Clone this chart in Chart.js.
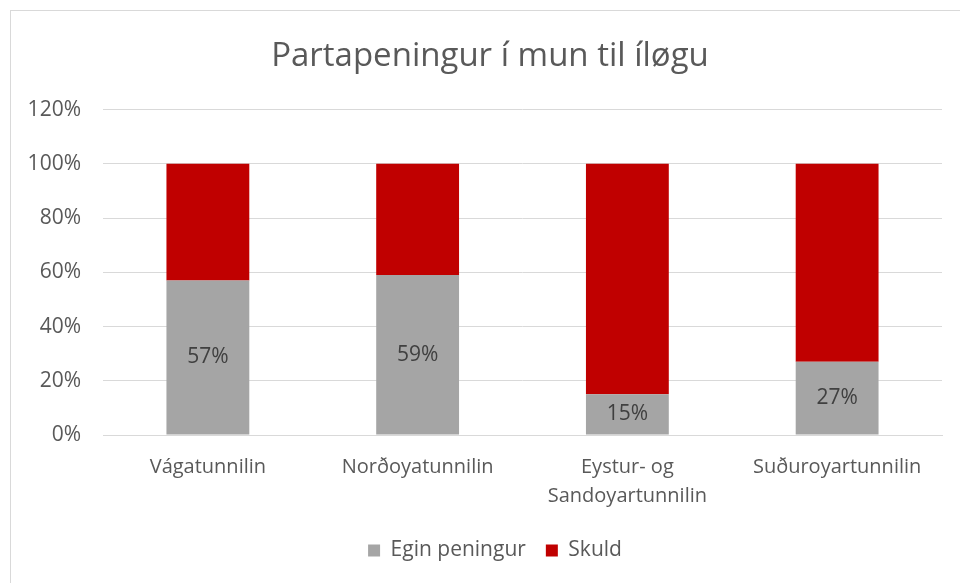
<!DOCTYPE html>
<html>
<head>
<meta charset="utf-8">
<script src="https://cdn.jsdelivr.net/npm/chart.js@4"></script>
<style>
    body { margin: 0; background: #fff; overflow: hidden; }
    #wrap { position: relative; width: 960px; height: 583px; }
    #frame { position: absolute; left: 10px; top: 10px; width: 960px; height: 600px; border: 1px solid #d9d9d9; pointer-events: none; }
</style>
</head>
<body>
<div id="wrap">
    <canvas id="chart" width="960" height="583"></canvas>
    <div id="frame"></div>
</div>
<script>
const categories = ["Vágatunnilin", "Norðoyatunnilin", ["Eystur- og", "Sandoyartunnilin"], "Suðuroyartunnilin"];
const eginPeningur = [57, 59, 15, 27];
const skuld = [43, 41, 85, 73];
const yTicks = [0, 20, 40, 60, 80, 100, 120];

const textColor = "#595959";
const fontFamily = "'Open Sans', sans-serif";

// Draws the % label in the middle of each grey bar
const barLabels = {
    id: "barLabels",
    afterDatasetsDraw(chart) {
        const ctx = chart.ctx;
        const meta = chart.getDatasetMeta(0);
        ctx.save();
        ctx.fillStyle = "#404040";
        ctx.font = "21px " + fontFamily;
        ctx.textAlign = "center";
        ctx.textBaseline = "middle";
        meta.data.forEach((bar, i) => {
            const mid = (bar.y + bar.base) / 2;
            ctx.fillText(eginPeningur[i] + "%", bar.x, mid);
        });
        ctx.restore();
    }
};

// Title and legend sit a bit right of the canvas centre in the original
const nudgeBoxes = {
    id: "nudgeBoxes",
    afterLayout(chart) {
        chart.legend.left += 14;
        chart.legend.right += 14;
        chart.titleBlock.left += 9;
        chart.titleBlock.right += 9;
    }
};

new Chart(document.getElementById("chart").getContext("2d"), {
    type: "bar",
    data: {
        labels: categories,
        datasets: [
            { label: "Egin peningur", data: eginPeningur, backgroundColor: "#a5a5a5" },
            { label: "Skuld", data: skuld, backgroundColor: "#c00000" }
        ]
    },
    options: {
        responsive: false,
        animation: false,
        layout: { padding: { left: 20, right: 18, top: 30, bottom: 12 } },
        datasets: { bar: { barPercentage: 0.79, categoryPercentage: 0.5 } },
        plugins: {
            title: {
                display: true,
                text: "Partapeningur í mun til íløgu",
                color: textColor,
                font: { family: fontFamily, size: 33, weight: "normal" },
                padding: { top: 7, bottom: 33 }
            },
            legend: {
                position: "bottom",
                labels: {
                    color: textColor,
                    font: { family: fontFamily, size: 21 },
                    boxWidth: 12,
                    boxHeight: 12,
                    padding: 20
                }
            },
            tooltip: { enabled: false }
        },
        scales: {
            x: {
                stacked: true,
                grid: { display: false },
                border: { color: "#d9d9d9" },
                ticks: {
                    color: textColor,
                    font: { family: fontFamily, size: 20, lineHeight: 1.45 },
                    padding: 10,
                    maxRotation: 0
                },
                afterFit(scale) { scale.height = 85; }
            },
            y: {
                stacked: true,
                min: 0,
                max: 120,
                afterBuildTicks(scale) { scale.ticks = yTicks.map(v => ({ value: v })); },
                grid: { color: "#d9d9d9", drawTicks: false },
                border: { display: false },
                ticks: {
                    color: textColor,
                    font: { family: fontFamily, size: 21 },
                    padding: 22,
                    callback: v => v + "%"
                },
                afterFit(scale) { scale.width = 83; }
            }
        }
    },
    plugins: [barLabels, nudgeBoxes]
});
</script>
</body>
</html>
